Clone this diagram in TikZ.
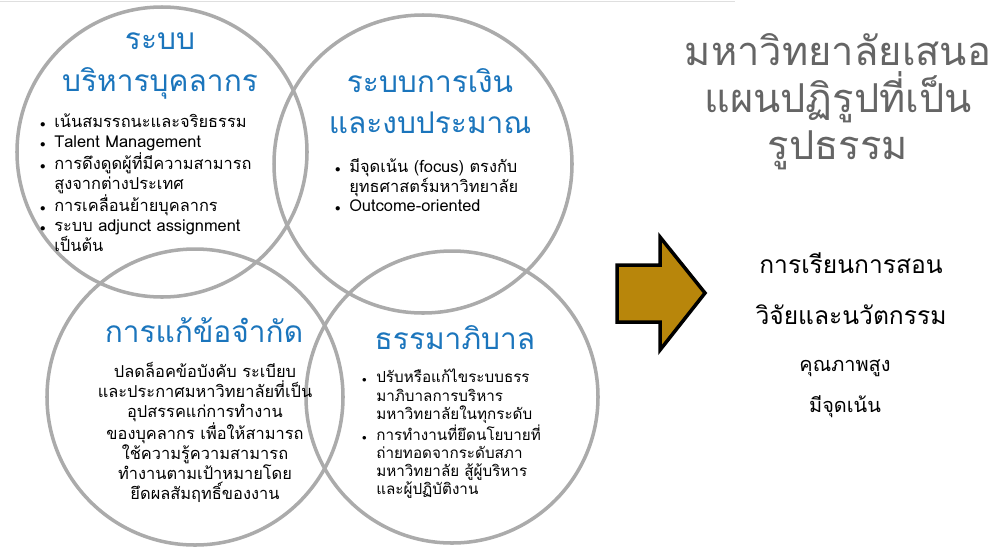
\documentclass[tikz,border=0pt]{standalone}
\usepackage{fontspec}
\newfontfamily\thaifont[Script=Thai]{Loma}
\usetikzlibrary{arrows.meta}

\definecolor{ringgray}{HTML}{ABABAB}
\definecolor{headblue}{HTML}{1B75BC}
\definecolor{titlegray}{HTML}{656565}
\definecolor{arrowgold}{HTML}{B8860B}

\newcommand{\bul}{\makebox[12pt][l]{\scalebox{0.65}{$\bullet$}}}
\newcommand{\nobul}{\hspace*{12pt}}

\begin{document}
\begin{tikzpicture}[x=0.03cm, y=-0.03cm,
    ring/.style={draw=ringgray, line width=3pt},
    head/.style={font=\thaifont\fontsize{25.5}{35}\selectfont, text=headblue, align=center},
    body/.style={font=\thaifont\fontsize{14}{17}\selectfont, align=left, anchor=north west, inner sep=0pt},
    bigtitle/.style={font=\thaifont\fontsize{34}{40}\selectfont, text=titlegray, align=center},
    result/.style={font=\thaifont\fontsize{21}{24}\selectfont},
    small/.style={font=\thaifont\fontsize{17}{20}\selectfont}]

    %% Background
    \useasboundingbox (0,0) rectangle (992,550);
    \draw[gray!25, line width=0.8pt] (0,1) -- (735,1);

    % Circles
    \draw[ring] (162,152) circle (145);
    \draw[ring] (423,164) circle (149);
    \draw[ring] (195,397) circle (148);
    \draw[ring] (452,397) circle (146);

    % Circle 1
    \node[head] (hr) at (160,66) {ระบบ\\บริหารบุคลากร};
    \node[body] (hrlist) at (40,114)
    {\bul เน้นสมรรถนะและจริยธรรม\\
     \bul Talent Management\\
     \bul การดึงดูดผู้ที่มีความสามารถ\\
     \nobul สูงจากต่างประเทศ\\
     \bul การเคลื่อนย้ายบุคลากร\\
     \bul ระบบ adjunct assignment\\
     \nobul เป็นต้น};

    % Circle 2
    \node[head] (fin) at (430,101) {ระบบการเงิน\\และงบประมาณ};
    \node[body] (finlist) at (335,158)
    {\bul มีจุดเน้น (focus) ตรงกับ\\
     \nobul ยุทธศาสตร์มหาวิทยาลัย\\
     \bul Outcome-oriented};

    % Circle 3
    \node[head] (lim) at (204,330) {การแก้ข้อจำกัด};
    \node[body, align=center, anchor=north] (limtext) at (205,362)
    {ปลดล็อคข้อบังคับ ระเบียบ\\
     และประกาศมหาวิทยาลัยที่เป็น\\
     อุปสรรคแก่การทำงาน\\
     ของบุคลากร เพื่อให้สามารถ\\
     ใช้ความรู้ความสามารถ\\
     ทำงานตามเป้าหมายโดย\\
     ยึดผลสัมฤทธิ์ของงาน};

    % Circle 4
    \node[head] (gov) at (455,338) {ธรรมาภิบาล};
    \node[body, font=\thaifont\fontsize{13}{15.5}\selectfont] (govlist) at (362,369)
    {\bul ปรับหรือแก้ไขระบบธรร\\
     \nobul มาภิบาลการบริหาร\\
     \nobul มหาวิทยาลัยในทุกระดับ\\
     \bul การทำงานที่ยึดนโยบายที่\\
     \nobul ถ่ายทอดจากระดับสภา\\
     \nobul มหาวิทยาลัย สู้ผู้บริหาร\\
     \nobul และผู้ปฏิบัติงาน};

    % Arrow
    \draw[line width=3pt, line join=miter, fill=arrowgold]
    (617,265) -- (660,265) -- (660,237) -- (705,293)
    -- (660,350) -- (660,322) -- (617,322) -- cycle;

    % Right side
    \node[bigtitle] (plan) at (838,102) {มหาวิทยาลัยเสนอ\\แผนปฏิรูปที่เป็น\\รูปธรรม};
    \node[result] (teach) at (851,263) {การเรียนการสอน};
    \node[result] (res) at (851,315) {วิจัยและนวัตกรรม};
    \node[small] (qual) at (845,368) {คุณภาพสูง};
    \node[small] (focus) at (845,407) {มีจุดเน้น};

\end{tikzpicture}
\end{document}
